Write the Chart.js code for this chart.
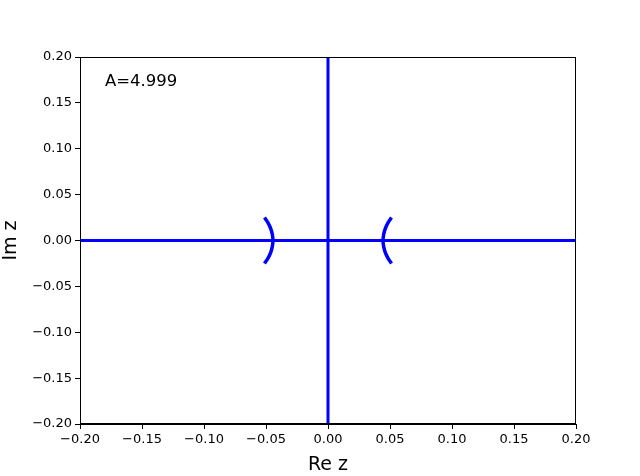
<!DOCTYPE html>
<html>
<head>
<meta charset="utf-8">
<script src="https://cdn.jsdelivr.net/npm/chart.js@4/dist/chart.umd.min.js"></script>
<style>
  html, body { margin: 0; padding: 0; background: #fff; }
  #wrap { width: 640px; height: 476px; }
</style>
</head>
<body>
<div id="wrap"><canvas id="plot"></canvas></div>
<script>
// axis ticks
const tickValues = [-0.2, -0.15, -0.1, -0.05, 0, 0.05, 0.1, 0.15, 0.2];
const label = 'A=4.999';

// real axis and imaginary axis lines
const realAxisX = [-0.2, 0.2];
const realAxisY = [0, 0];
const imagAxisX = [0, 0];
const imagAxisY = [-0.2, 0.2];

// the two small arcs
const arcY = [0.025, 0.02, 0.015, 0.01, 0.005, 0, -0.005, -0.01, -0.015, -0.02, -0.025];
const rightArcX = [0.0512, 0.0487, 0.0468, 0.0455, 0.0447, 0.0444, 0.0447, 0.0455, 0.0468, 0.0487, 0.0512];
const leftArcX = [-0.0512, -0.0487, -0.0468, -0.0455, -0.0447, -0.0444, -0.0447, -0.0455, -0.0468, -0.0487, -0.0512];

const pts = (xs, ys) => xs.map((x, i) => ({ x: x, y: ys[i] }));
const blue = '#0000ff';

function series(xs, ys, w) {
  return {
    data: pts(xs, ys),
    showLine: true,
    borderColor: blue,
    backgroundColor: blue,
    borderWidth: w,
    pointRadius: 0,
    tension: 0.3
  };
}

function fmt(v) {
  const s = Math.abs(v) < 1e-9 ? '0.00' : v.toFixed(2);
  return s.replace('-', '\u2212');
}

const textPlugin = {
  id: 'annot',
  afterDraw(chart) {
    const { ctx, chartArea } = chart;
    ctx.save();
    ctx.font = '16.5px "DejaVu Sans"';
    ctx.fillStyle = '#000';
    ctx.textBaseline = 'alphabetic';
    ctx.fillText(label, chartArea.left + 25, chartArea.top + 29);
    ctx.restore();
  }
};

const tickFont = { family: 'DejaVu Sans', size: 13 };

new Chart(document.getElementById('plot'), {
  type: 'scatter',
  data: {
    datasets: [
      series(realAxisX, realAxisY, 3),
      series(imagAxisX, imagAxisY, 3),
      series(leftArcX, arcY, 3.5),
      series(rightArcX, arcY, 3.5)
    ]
  },
  options: {
    responsive: true,
    maintainAspectRatio: false,
    animation: false,
    layout: { padding: { top: 57, right: 64, left: 0, bottom: 0 } },
    plugins: { legend: { display: false }, tooltip: { enabled: false } },
    scales: {
      x: {
        type: 'linear',
        min: -0.2,
        max: 0.2,
        afterBuildTicks(axis) { axis.ticks = tickValues.map(v => ({ value: v })); },
        afterFit(axis) { axis.height = 52; },
        border: { display: true, color: '#000', width: 1 },
        grid: { drawOnChartArea: false, drawTicks: true, tickLength: 5, color: '#000' },
        ticks: { color: '#000', font: tickFont, padding: 3, maxRotation: 0, autoSkip: false, callback: fmt },
        title: { display: true, text: 'Re z', color: '#000', font: { family: 'DejaVu Sans', size: 19 }, padding: { top: 1, bottom: 0 } }
      },
      y: {
        type: 'linear',
        min: -0.2,
        max: 0.2,
        afterBuildTicks(axis) { axis.ticks = tickValues.map(v => ({ value: v })); },
        afterFit(axis) { axis.width = 80; },
        border: { display: true, color: '#000', width: 1 },
        grid: { drawOnChartArea: false, drawTicks: true, tickLength: 5, color: '#000' },
        ticks: { color: '#000', font: tickFont, padding: 3, autoSkip: false, callback: fmt },
        title: { display: true, text: 'Im z', color: '#000', font: { family: 'DejaVu Sans', size: 19 }, padding: { top: 0, bottom: 2 } }
      }
    }
  },
  plugins: [
    textPlugin,
    {
      id: 'frame',
      afterDraw(chart) {
        const { ctx, chartArea: a } = chart;
        ctx.save();
        ctx.strokeStyle = '#000';
        ctx.lineWidth = 1;
        ctx.strokeRect(a.left + 0.5, a.top + 0.5, a.right - a.left - 1, a.bottom - a.top - 1);
        ctx.restore();
      }
    }
  ]
});
</script>
</body>
</html>
